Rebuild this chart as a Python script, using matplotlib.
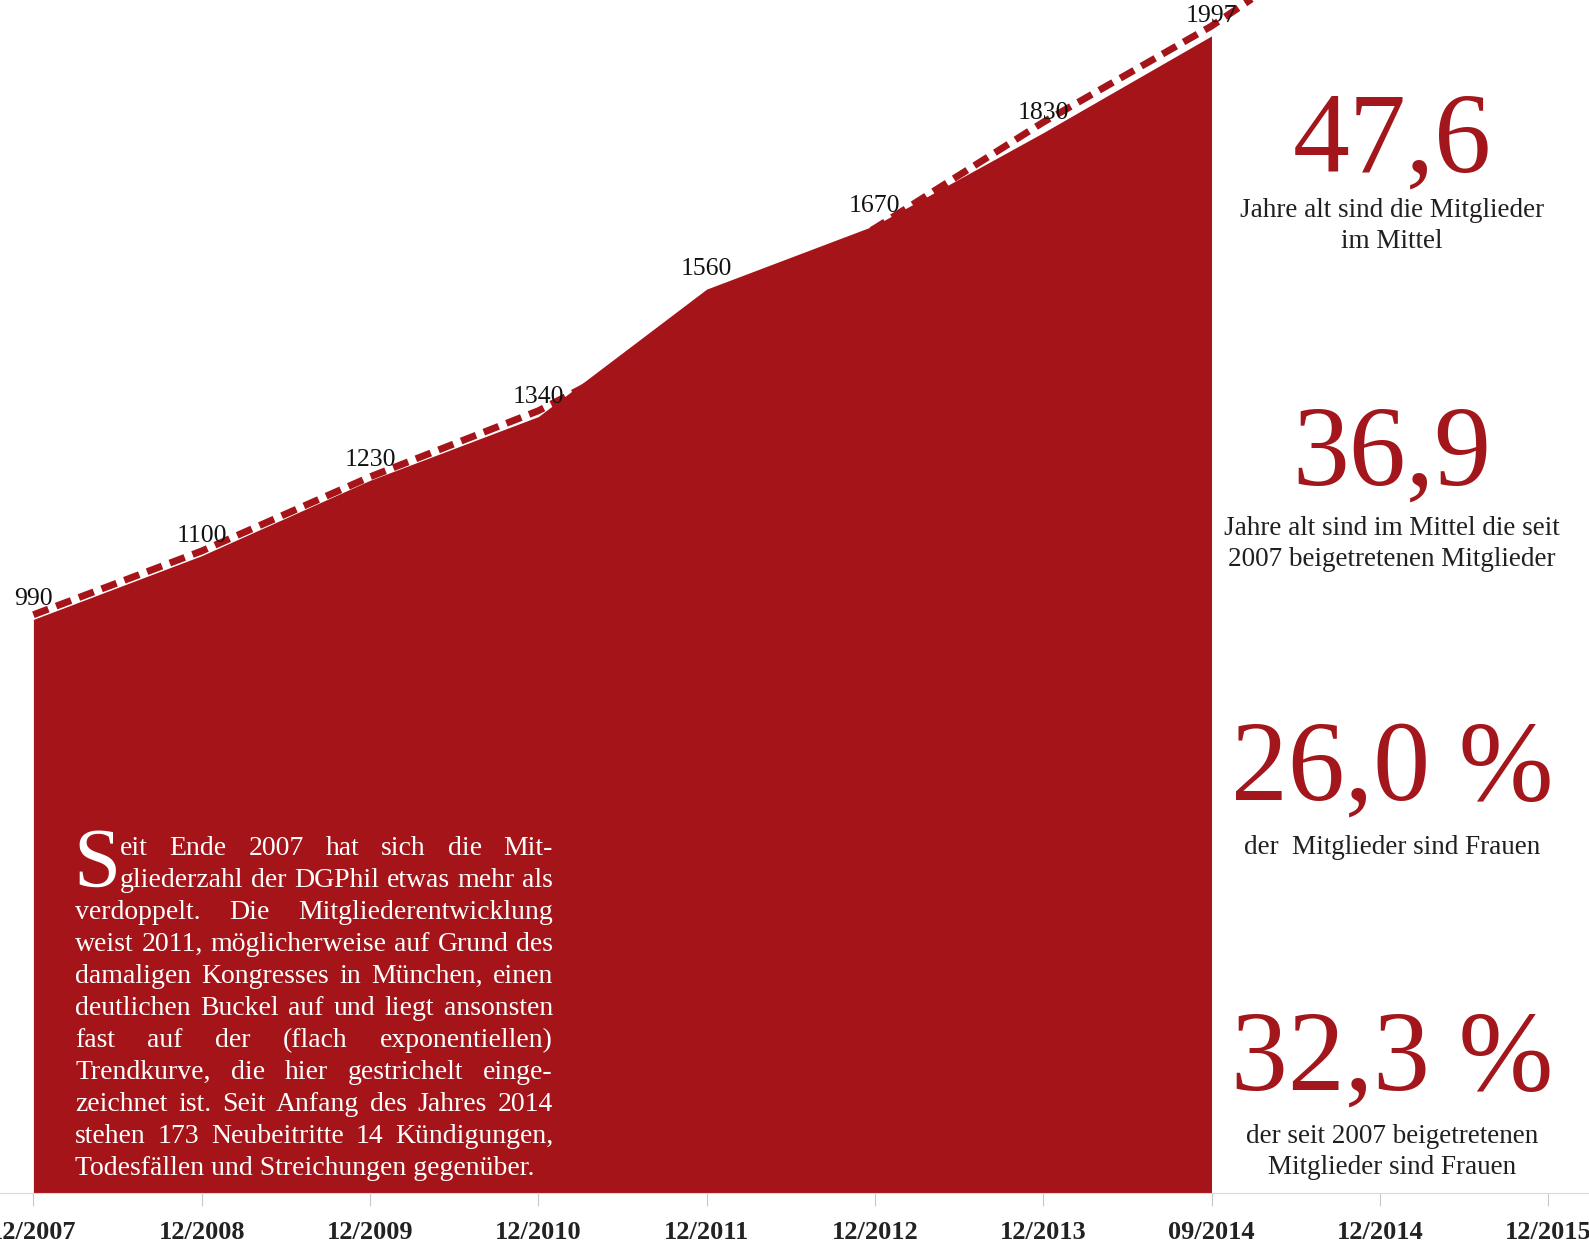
import numpy as np
import matplotlib.pyplot as plt

# members of the DGPhil per date
labels = ['12/2007', '12/2008', '12/2009', '12/2010', '12/2011',
          '12/2012', '12/2013', '09/2014', '12/2014', '12/2015']
members = [990, 1100, 1230, 1340, 1560, 1670, 1830, 1997]
trend = [998, 1108, 1236, 1350, 1500, 1665, 1848, 2014, 2210]

big_numbers = ['47,6', '36,9', '26,0 %', '32,3 %']
captions = [['Jahre alt sind die Mitglieder', 'im Mittel'],
            ['Jahre alt sind im Mittel die seit', '2007 beigetretenen Mitglieder'],
            ['der  Mitglieder sind Frauen'],
            ['der seit 2007 beigetretenen', 'Mitglieder sind Frauen']]

body_lines = ['eit Ende 2007 hat sich die Mit-',
              'gliederzahl der DGPhil etwas mehr als',
              'verdoppelt. Die Mitgliederentwicklung',
              'weist 2011, möglicherweise auf Grund des',
              'damaligen Kongresses in München, einen',
              'deutlichen Buckel auf und liegt ansonsten',
              'fast auf der (flach exponentiellen)',
              'Trendkurve, die hier gestrichelt einge-',
              'zeichnet ist. Seit Anfang des Jahres 2014',
              'stehen 173 Neubeitritte 14 Kündigungen,',
              'Todesfällen und Streichungen gegenüber.']

red = '#a51419'
serif = 'Liberation Serif'
W, H = 1589, 1245

fig = plt.figure(figsize=(W / 100, H / 100), dpi=100)
ax = fig.add_axes([0, 52 / H, 1, 1193 / H])

x = np.arange(len(labels))
ax.plot(x[:len(trend)], trend, color=red, lw=5, dashes=(2.3, 1.2),
        solid_capstyle='butt', zorder=1)
ax.fill_between(x[:len(members)], members, color=red, lw=0, zorder=2)
for i, v in enumerate(members):
    ax.annotate(str(v), (i, v), xytext=(0, 10), textcoords='offset points',
                ha='center', va='baseline', fontsize=18.5, family=serif,
                color='#111111', zorder=4)

step = 168.3
ax.set_xlim(-33.4 / step, -33.4 / step + W / step)
ax.set_ylim(0, 2059)
ax.set_xticks(x)
ax.set_xticklabels(labels, fontsize=19, fontweight='bold', family=serif,
                   color='#222222')
ax.tick_params(axis='x', length=9, color='#c8c8c8', pad=11)
ax.set_yticks([])
for s in ['top', 'left', 'right']:
    ax.spines[s].set_visible(False)
ax.spines['bottom'].set_color('#ead2d2')

# right hand side key figures
num_base = [172, 485, 800, 1090]
cap_base = [217, 535, 854, 1143]
for num, caps, nb, cb in zip(big_numbers, captions, num_base, cap_base):
    fig.text(1392 / W, 1 - nb / H, num, ha='center', va='baseline',
             fontsize=82, family=serif, color='#a3161b')
    for k, c in enumerate(caps):
        fig.text(1392 / W, 1 - (cb + 31 * k) / H, c, ha='center',
                 va='baseline', fontsize=19.5, family=serif, color='#231f20')

# justified text block inside the area
r = fig.canvas.get_renderer()
right = 553
fig.text(73 / W, 1 - 887 / H, 'S', fontsize=61, family=serif, color='white',
         va='baseline')
for n, line in enumerate(body_lines):
    yb = 1 - (855 + 32 * n) / H
    left = 120 if n < 2 else 75
    if n == len(body_lines) - 1:
        fig.text(left / W, yb, line, fontsize=20, family=serif,
                 color='white', va='baseline')
        continue
    words = line.split()
    ts = [fig.text(0, yb, w, fontsize=20, family=serif, color='white',
                   va='baseline') for w in words]
    widths = [t.get_window_extent(renderer=r).width for t in ts]
    gap = (right - left - sum(widths)) / (len(words) - 1)
    pos = left
    for t, w in zip(ts, widths):
        t.set_x(pos / W)
        pos += w + gap

fig.savefig('out.png', dpi=100)
